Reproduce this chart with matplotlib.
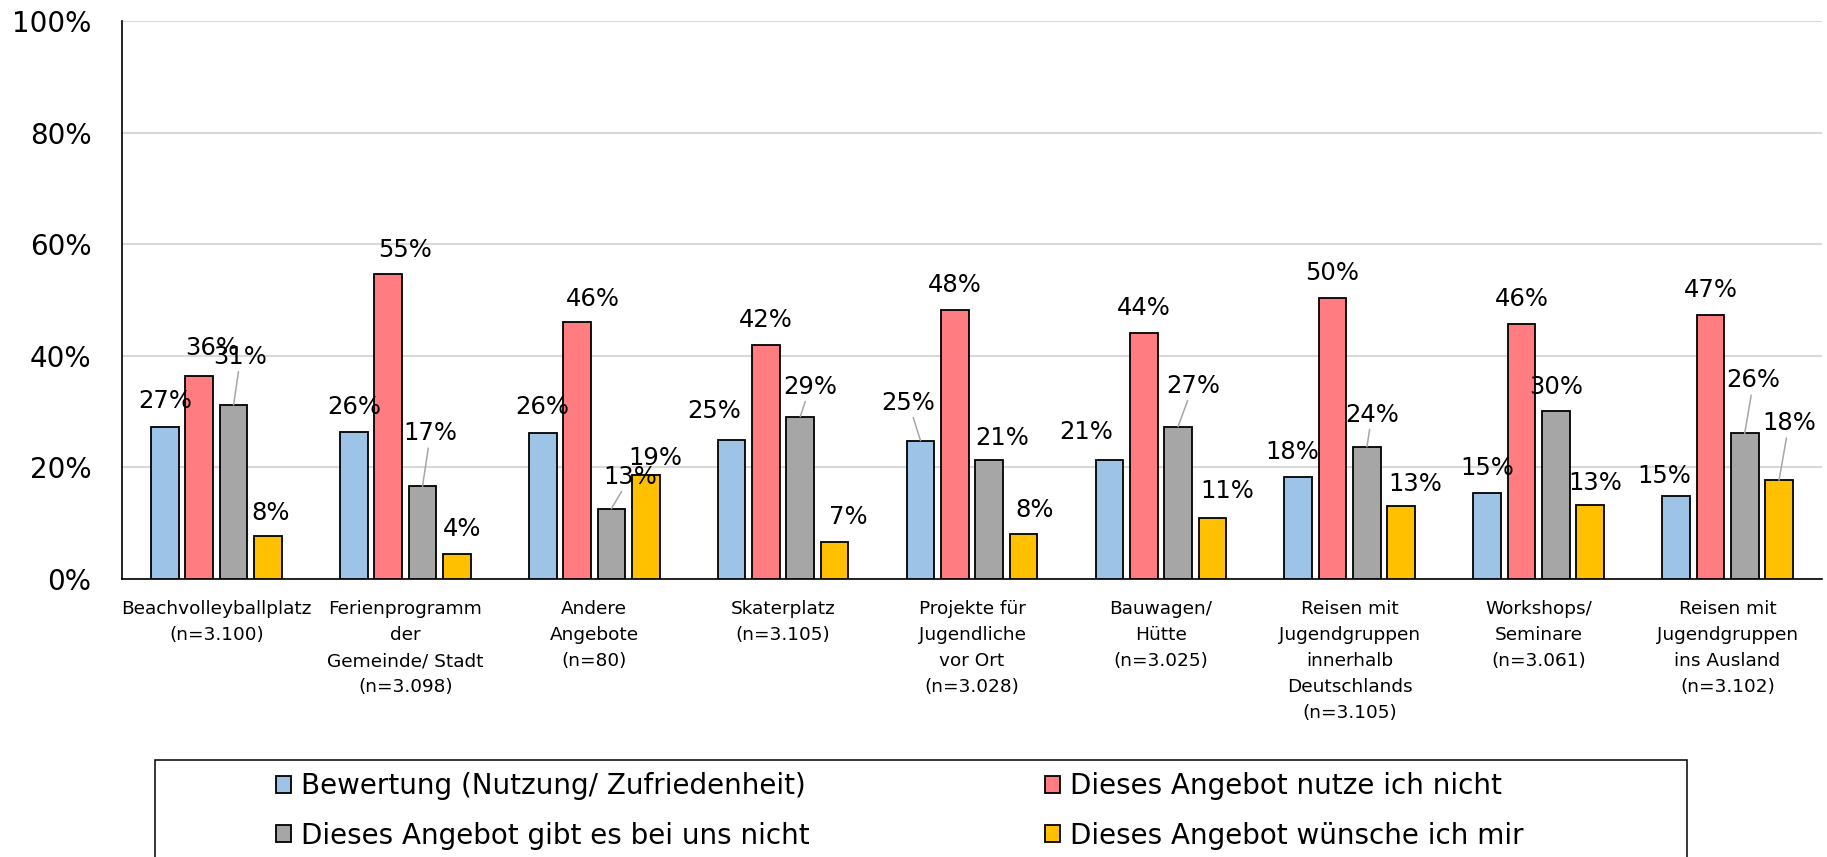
import numpy as np
import matplotlib
matplotlib.use("Agg")
import matplotlib.pyplot as plt
from matplotlib.patches import Rectangle
from matplotlib.ticker import FuncFormatter

# --- data (percent) ---
categories = [
    "Beachvolleyballplatz\n(n=3.100)",
    "Ferienprogramm\nder\nGemeinde/ Stadt\n(n=3.098)",
    "Andere\nAngebote\n(n=80)",
    "Skaterplatz\n(n=3.105)",
    "Projekte für\nJugendliche\nvor Ort\n(n=3.028)",
    "Bauwagen/\nHütte\n(n=3.025)",
    "Reisen mit\nJugendgruppen\ninnerhalb\nDeutschlands\n(n=3.105)",
    "Workshops/\nSeminare\n(n=3.061)",
    "Reisen mit\nJugendgruppen\nins Ausland\n(n=3.102)",
]
bewertung = [27.3, 26.3, 26.1, 25.0, 24.8, 21.3, 18.2, 15.4, 14.8]
nutze_nicht = [36.4, 54.6, 46.1, 42.0, 48.2, 44.1, 50.3, 45.7, 47.3]
gibt_nicht = [31.2, 16.6, 12.6, 29.1, 21.3, 27.3, 23.7, 30.1, 26.1]
wuensche = [7.7, 4.4, 18.6, 6.6, 8.1, 10.9, 13.1, 13.2, 17.7]

series_names = [
    "Bewertung (Nutzung/ Zufriedenheit)",
    "Dieses Angebot nutze ich nicht",
    "Dieses Angebot gibt es bei uns nicht",
    "Dieses Angebot wünsche ich mir",
]
colors = ["#9DC3E6", "#FF7C80", "#A6A6A6", "#FFC000"]

# label nudges in pixels (dx, dy above bar top, leader line) - like moved Excel labels
label_nudge = [
    [(0, 19, 0), (0, 18, 0), (0, 19, 0), (-17, 21, 0), (-12, 31, 1), (-23, 21, 0), (-6, 18, 0), (0, 18, 0), (-12, 13, 0)],
    [(13, 21, 0), (17, 17, 0), (16, 16, 0), (0, 18, 0), (0, 18, 0), (0, 18, 0), (0, 18, 0), (0, 18, 0), (0, 18, 0)],
    [(7, 41, 1), (8, 46, 1), (19, 25, 1), (10, 23, 1), (13, 15, 0), (15, 34, 1), (5, 25, 1), (0, 17, 0), (9, 46, 1)],
    [(3, 16, 0), (5, 18, 0), (10, 10, 0), (14, 18, 0), (11, 17, 0), (15, 20, 0), (14, 15, 0), (5, 15, 0), (10, 50, 1)],
]

W, H = 1827, 857
fig = plt.figure(figsize=(W / 100, H / 100), dpi=100)
ax = fig.add_axes([122 / W, 1 - 579 / H, 1700 / W, (579 - 21) / H])

x = np.arange(len(categories))
pitch = 0.1817
width = 0.1465
all_series = [bewertung, nutze_nicht, gibt_nicht, wuensche]
containers = []
for k, vals in enumerate(all_series):
    xs = x + (k - 1.5) * pitch
    bc = ax.bar(xs, vals, width=width, color=colors[k], edgecolor="black",
                linewidth=1.3, label=series_names[k], zorder=3)
    containers.append(bc)
    for i, v in enumerate(vals):
        dx, dy, leader = label_nudge[k][i]
        arrow = dict(arrowstyle="-", color="#A6A6A6", lw=1.1,
                     shrinkA=0, shrinkB=0) if leader else None
        ax.annotate(f"{v:.0f}%", xy=(xs[i], v), xytext=(dx * 0.72, dy * 0.72),
                    textcoords="offset points", ha="center", va="baseline",
                    fontsize=17.5, color="black", arrowprops=arrow, zorder=4)

ax.set_xlim(-0.5, len(categories) - 0.5)
ax.set_ylim(0, 100)
ax.set_yticks(np.arange(0, 101, 20))
ax.yaxis.set_major_formatter(FuncFormatter(lambda v, p: f"{v:.0f}%"))
ax.set_xticks(x)
ax.set_xticklabels(categories, fontsize=13.3, linespacing=1.58)
ax.tick_params(axis="y", length=0, pad=22, labelsize=20)
ax.tick_params(axis="x", length=0, pad=15)
ax.grid(axis="y", color="#D9D9D9", linewidth=1.5, zorder=0)
for s in ["top", "right"]:
    ax.spines[s].set_visible(False)
ax.spines["left"].set_linewidth(1.2)
ax.spines["bottom"].set_linewidth(1.2)

# legend frame (runs off the bottom like the original)
fig.patches.append(Rectangle((155 / W, -0.05), (1687 - 155) / W, 0.05 + 1 - 760 / H,
                             transform=fig.transFigure, fill=False,
                             edgecolor="black", linewidth=1.1))
# row-wise order: legend fills columns first
order = [0, 2, 1, 3]
fig.legend(handles=[containers[j] for j in order],
           labels=[series_names[j] for j in order], ncol=2, loc="upper left",
           bbox_to_anchor=(276 / W, 1 - 772 / H), frameon=False, borderpad=0,
           borderaxespad=0, fontsize=20, handlelength=0.55, handleheight=0.55,
           handletextpad=0.36, columnspacing=8.45, labelspacing=0.78)

fig.savefig("out.png", dpi=100)
